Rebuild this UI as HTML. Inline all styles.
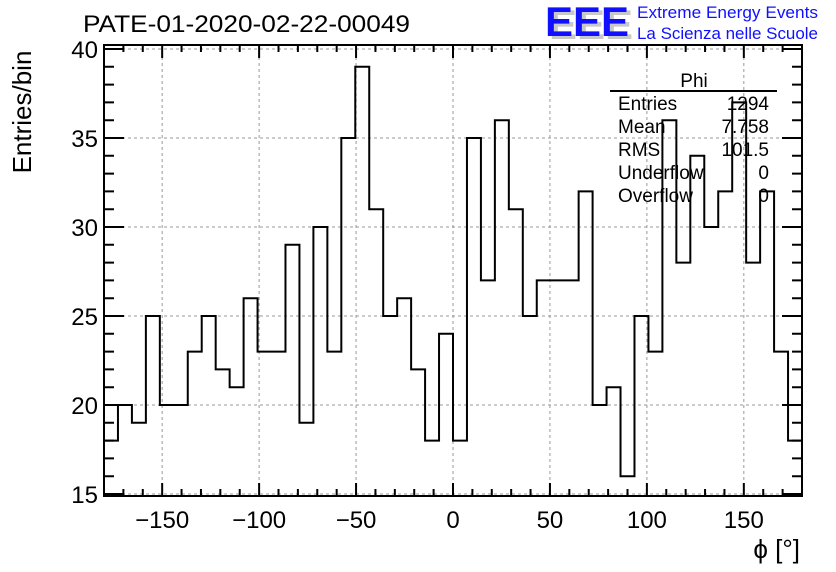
<!DOCTYPE html>
<html><head><meta charset="utf-8"><style>
html,body{margin:0;padding:0;background:#fff;}
svg{display:block;font-family:"Liberation Sans",Arial,sans-serif;}
</style></head><body>
<svg id="c" width="836" height="572" viewBox="0 0 836 572">
<text x="83" y="32" font-size="24" textLength="327" lengthAdjust="spacingAndGlyphs">PATE-01-2020-02-22-00049</text>
<g>
<text x="549" y="39" font-size="42" font-weight="bold" fill="#c8c8c8" textLength="84" lengthAdjust="spacingAndGlyphs">EEE</text>
<text x="545" y="36" font-size="42" font-weight="bold" fill="#1010ff" textLength="84" lengthAdjust="spacingAndGlyphs">EEE</text>
<text x="637" y="18" font-size="17" fill="#1010ff" textLength="181" lengthAdjust="spacingAndGlyphs">Extreme Energy Events</text>
<text x="637" y="39" font-size="17" fill="#1010ff" textLength="181" lengthAdjust="spacingAndGlyphs">La Scienza nelle Scuole</text>
</g>
<text transform="translate(31,112) rotate(-90)" text-anchor="middle" font-size="26">Entries/bin</text>
<text x="800" y="558" text-anchor="end" font-size="26">ϕ [°]</text>
<g id="grid"></g><g id="axes"></g><path id="hist" fill="none" stroke="#000" stroke-width="2"></path>
<g font-size="19">
<text x="694" y="87" text-anchor="middle">Phi</text>
<line x1="610" y1="91" x2="777" y2="91" stroke="#000" stroke-width="2"/>
<text x="618" y="110">Entries</text><text x="769" y="110" text-anchor="end">1294</text>
<text x="618" y="133">Mean</text><text x="769" y="133" text-anchor="end">7.758</text>
<text x="618" y="156">RMS</text><text x="769" y="156" text-anchor="end">101.5</text>
<text x="618" y="179">Underflow</text><text x="769" y="179" text-anchor="end">0</text>
<text x="618" y="202">Overflow</text><text x="769" y="202" text-anchor="end">0</text>
</g>
</svg>
<script>
const counts=[18,20,19,25,20,20,23,25,22,21,26,23,23,29,19,30,23,35,39,31,25,26,22,18,24,
18,35,27,36,31,25,27,27,27,32,20,21,16,25,23,36,28,34,30,32,37,28,32,23,18];
const xTicks=[-150,-100,-50,0,50,100,150];
const yTicks=[15,20,25,30,35,40];
const XMIN=-180,XMAX=180,YMIN=14.9,YMAX=40.25;
const L=104,R=802,T=45,B=496;
const NS="http://www.w3.org/2000/svg";
const sx=v=>L+(v-XMIN)/(XMAX-XMIN)*(R-L);
const sy=v=>494-(v-15)*(494-49)/25;
function mk(tag,attrs,parent){const e=document.createElementNS(NS,tag);for(const k in attrs)e.setAttribute(k,attrs[k]);parent.appendChild(e);return e;}
const grid=document.getElementById('grid'),axes=document.getElementById('axes');
xTicks.forEach(v=>{const g=mk('line',{x1:sx(v),x2:sx(v),y1:T,y2:B,stroke:'#999','stroke-dasharray':'3,3','stroke-width':1},grid);


const t=mk('text',{x:sx(v),y:528,'text-anchor':'middle','font-size':24},axes);t.textContent=v===0?'0':(v<0?'\u2212'+Math.abs(v):v);

});
yTicks.forEach(v=>{const g=mk('line',{x1:L,x2:R,y1:sy(v),y2:sy(v),stroke:'#999','stroke-dasharray':'3,3','stroke-width':1},grid);


const t=mk('text',{x:98,y:sy(v)+9,'text-anchor':'end','font-size':24},axes);t.textContent=v;

});
let tk='';
for(let v=-170;v<=170;v+=10){const len=(v%50===0)?13:7;tk+=`M${sx(v)},${B}v${-len}M${sx(v)},${T}v${len}`;}
for(let v=15;v<=40;v++){const len=(v%5===0)?20:10;tk+=`M${L},${sy(v)}h${len}M${R},${sy(v)}h${-len}`;}
const ticks=mk('path',{d:tk,stroke:'#000','stroke-width':2,fill:'none'},axes);


const frame=mk('rect',{x:L,y:T,width:R-L,height:B-T,fill:'none',stroke:'#000','stroke-width':2},axes);


const w=(XMAX-XMIN)/counts.length;
let d=`M${sx(XMIN)},${sy(counts[0])}`;
counts.forEach((c,i)=>{if(i>0)d+=`V${sy(c)}`;d+=`H${sx(XMIN+(i+1)*w)}`;});
document.getElementById('hist').setAttribute('d',d);
</script>
</body></html>
